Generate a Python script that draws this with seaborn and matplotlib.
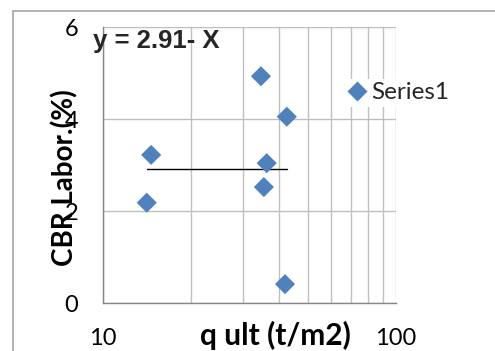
import matplotlib
matplotlib.use("Agg")
import matplotlib.pyplot as plt
from matplotlib.patches import Rectangle
from matplotlib.ticker import FixedLocator, NullFormatter
import numpy as np
import pandas as pd
import seaborn as sns

# ---- data ----
q_ult = [14.6, 14.1, 34.6, 42.4, 36.2, 35.4, 41.8]
cbr = [3.22, 2.18, 4.93, 4.05, 3.04, 2.52, 0.41]
series_name = "Series1"
trend_value = 2.91
equation = "y = 2.91- X"
x_label = "q ult (t/m2)"
y_label = "CBR Labor.(%)"
x_major = [10, 100]
x_minor = [20, 30, 40, 50, 60, 70, 80, 90]
y_ticks = [0, 2, 4, 6]

df = pd.DataFrame({"q": q_ult, "cbr": cbr, "series": series_name})

sns.set_theme(style="white")
plt.rcParams["font.family"] = ["Lato", "DejaVu Sans"]

W, H = 495, 351
fig = plt.figure(figsize=(W / 100, H / 100), dpi=100)
ax = fig.add_axes([103 / W, 1 - 303 / H, (396 - 103) / W, (303 - 27) / H])

blue = "#4F81BD"
grid_c = "#BFBFBF"
axis_c = "#868686"

sns.scatterplot(data=df, x="q", y="cbr", hue="series", palette=[blue],
                marker="D", s=105, edgecolor="none", ax=ax, zorder=3)

# trend line across data range
xs = [min(q_ult), max(q_ult)]
ax.plot(xs, [trend_value, trend_value], color="black", lw=1.0, zorder=2)

ax.set_xscale("log")
ax.set_xlim(x_major[0], x_major[-1])
ax.set_ylim(y_ticks[0], y_ticks[-1])
ax.xaxis.set_major_locator(FixedLocator(x_major))
ax.xaxis.set_minor_locator(FixedLocator(x_minor))
ax.xaxis.set_minor_formatter(NullFormatter())
ax.set_xticklabels([str(v) for v in x_major])
ax.set_yticks(y_ticks)
ax.set_yticklabels([str(v) for v in y_ticks])

ax.grid(True, which="both", axis="x", color=grid_c, lw=1.0)
ax.grid(True, which="major", axis="y", color=grid_c, lw=1.0)
ax.set_axisbelow(True)

for s in ["top", "right"]:
    ax.spines[s].set_visible(False)
for s in ["left", "bottom"]:
    ax.spines[s].set_color(axis_c)
    ax.spines[s].set_linewidth(1.0)

ax.tick_params(axis="both", which="major", direction="out", length=6,
               width=1.0, color=axis_c, labelsize=17, labelcolor="black")
ax.tick_params(axis="y", pad=12)
ax.tick_params(axis="x", pad=12)
ax.tick_params(axis="x", which="minor", length=0)

ax.set_xlabel(x_label, fontsize=21.5, fontweight="bold", color="black")
ax.set_ylabel(y_label, fontsize=20, fontweight="bold", color="black")
ax.xaxis.set_label_coords(0.59, -0.065)
ax.yaxis.set_label_coords(-0.085, 0.455)

ax.text(-0.034, 0.949, equation, transform=ax.transAxes, ha="left", va="center",
        fontsize=18.5, fontweight="bold", family=["Liberation Sans", "DejaVu Sans"],
        zorder=5)

leg = ax.legend(loc="center left", bbox_to_anchor=(0.83, 0.761),
                frameon=True, fontsize=17.5, handlelength=0.6, handletextpad=0.3,
                borderpad=0.15, borderaxespad=0, markerscale=1.0)
leg.get_frame().set_facecolor("white")
leg.get_frame().set_edgecolor("none")
leg.get_frame().set_alpha(1)

fig.patches.append(Rectangle((13 / W, -0.2), 1.2, 1 - 11 / H + 0.2,
                             transform=fig.transFigure, fill=False,
                             edgecolor="#A6A6A6", lw=1.2, clip_on=False))

fig.savefig("out.png", dpi=100)
